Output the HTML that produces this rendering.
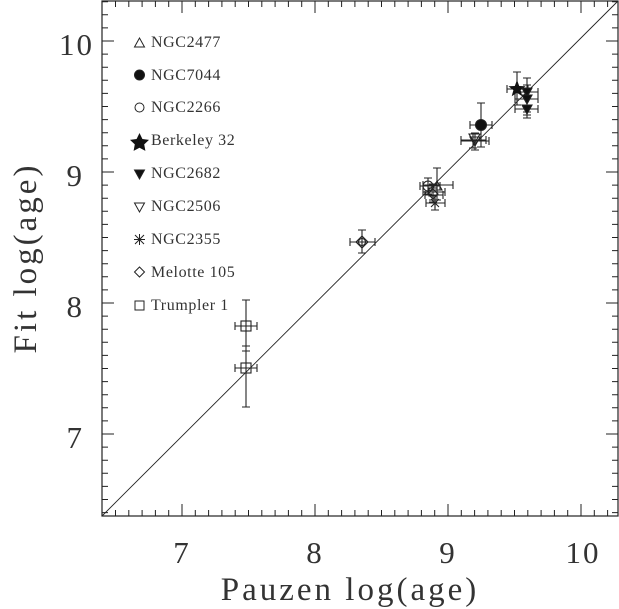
<!DOCTYPE html>
<html><head><meta charset="utf-8"><style>
html,body{margin:0;padding:0;background:#fff;}
svg{display:block;}
text{font-family:"Liberation Serif",serif;fill:#333;}
</style></head><body>
<svg id="s" width="619" height="609" viewBox="0 0 619 609" xmlns="http://www.w3.org/2000/svg">
<rect x="102" y="1" width="516" height="515" fill="none" stroke="#222" stroke-width="1.2"/>
<g id="ticks" stroke="#222" stroke-width="1"></g>
<line x1="102" y1="516" x2="618" y2="1" stroke="#222" stroke-width="0.9"/>
<g font-size="31" text-anchor="middle" letter-spacing="2">
<text x="182" y="563">7</text><text x="315" y="563">8</text><text x="448" y="563">9</text><text x="583" y="563">10</text>
<text x="84" y="448" text-anchor="end">7</text><text x="84" y="317" text-anchor="end">8</text><text x="84" y="186" text-anchor="end">9</text><text x="94" y="55" text-anchor="end">10</text>
</g>
<text x="350" y="600" font-size="33" text-anchor="middle" letter-spacing="3">Pauzen log(age)</text>
<text transform="translate(36,258) rotate(-90)" font-size="33" text-anchor="middle" letter-spacing="3">Fit log(age)</text>
<g font-size="16" letter-spacing="0.6">
<text x="151" y="47">NGC2477</text><text x="151" y="80">NGC7044</text><text x="151" y="112">NGC2266</text>
<text x="151" y="145">Berkeley 32</text><text x="151" y="178">NGC2682</text><text x="151" y="211">NGC2506</text>
<text x="151" y="244">NGC2355</text><text x="151" y="277">Melotte 105</text><text x="151" y="310">Trumpler 1</text>
</g>
<g stroke="#222" stroke-width="1" fill="none">
<path d="M134.5 47 L139.5 38 L144.5 47 Z"/>
<circle cx="139.5" cy="75" r="5" fill="#111"/>
<circle cx="139.5" cy="107.5" r="4.5"/>
<path d="M134.5 170 L144.5 170 L139.5 179 Z" fill="#111"/>
<path d="M134.5 203 L144.5 203 L139.5 212 Z"/>
<path d="M135 235 L144 244 M144 235 L135 244 M139.5 234 L139.5 245 M134 239.5 L145 239.5"/>
<path d="M139.5 267 L144.5 272 L139.5 277 L134.5 272 Z"/>
<rect x="135" y="301" width="9" height="9"/>
</g>
<path d="M139.5 133 l2.9 6 6.6 .9 -4.8 4.5 1.2 6.5 -5.9 -3.1 -5.9 3.1 1.2 -6.5 -4.8 -4.5 6.6 -.9z" fill="#111"/>
<g id="data" stroke="#222" stroke-width="1.1" fill="none"></g>
</svg>
<script>
var ns="http://www.w3.org/2000/svg",t=document.getElementById('ticks'),d="";
for(var i=0;i<=39;i++){var v=6.4+i*0.1;var x=182+(v-7)*133;if(x<102.5||x>617.5)continue;var maj=Math.abs(v-Math.round(v))<0.01;var L=maj?12:6;d+="M"+x+" 516 v-"+L+"M"+x+" 1 v"+L;}
for(var i=0;i<=40;i++){var v=6.4+i*0.1;var y=434-(v-7)*131;if(y>515.5||y<1.5)continue;var maj=Math.abs(v-Math.round(v))<0.01;var L=maj?12:6;d+="M102 "+y+" h"+L+"M618 "+y+" h-"+L;}
var p=document.createElementNS(ns,'path');p.setAttribute('d',d);t.appendChild(p);
var g=document.getElementById('data'),s="";
function eb(x,y,x1,x2,y1,y2){s+="M"+x1+" "+y+"H"+x2+"M"+x1+" "+(y-4)+"v8M"+x2+" "+(y-4)+"v8M"+x+" "+y1+"V"+y2+"M"+(x-4)+" "+y1+"h8M"+(x-4)+" "+y2+"h8";}
eb(517,89,507,528,72,105);
eb(527,92,515,538,78,112);eb(527,99,515,538,85,115);eb(527,109,515,538,95,118);
eb(481,125,470,492,103,147);
eb(475,141,461,489,133,150);eb(473,140,461,486,134,148);
eb(437,185,423,453,168,200);eb(428,186,420,440,178,194);eb(433,192,423,445,184,200);eb(433,195,425,443,188,202);eb(435,203,426,445,195,210);
eb(362,242,350,375,230,253);
eb(246,326,235,257,300,351);eb(246,368,235,257,346,407);
var p2=document.createElementNS(ns,'path');p2.setAttribute('d',s);g.appendChild(p2);
function add(tag,at){var e=document.createElementNS(ns,tag);for(var k in at)e.setAttribute(k,at[k]);g.appendChild(e);}
function star(x,y,r){var q="";for(var i=0;i<10;i++){var a=-Math.PI/2+i*Math.PI/5,rr=i%2?r*0.42:r;q+=(i?"L":"M")+(x+rr*Math.cos(a))+" "+(y+rr*Math.sin(a));}add('path',{d:q+"Z",fill:"#111",stroke:"none"});}
star(517,89,9);
[[527,92],[527,99],[527,109]].forEach(function(c){add('path',{d:"M"+(c[0]-5)+" "+(c[1]-4)+"h10l-5 9z",fill:"#111"});});
add('circle',{cx:481,cy:125,r:5.5,fill:"#111"});
add('path',{d:"M470 137h10l-5 9z"});add('path',{d:"M469 134h11l-5.5 9z"});
add('circle',{cx:428,cy:186,r:5});add('path',{d:"M432 190l5-9 5 9z"});
add('rect',{x:429,y:188,width:8,height:8});add('path',{d:"M433 189l5 5-5 5-5-5z"});
add('path',{d:"M431 199l8 8M439 199l-8 8M435 198v10M430 203h10"});
add('path',{d:"M362 236l6 6-6 6-6-6z"});add('circle',{cx:362,cy:242,r:3.5});
add('rect',{x:241,y:321,width:10,height:10});add('rect',{x:241,y:363,width:10,height:10});
</script>
</body></html>
